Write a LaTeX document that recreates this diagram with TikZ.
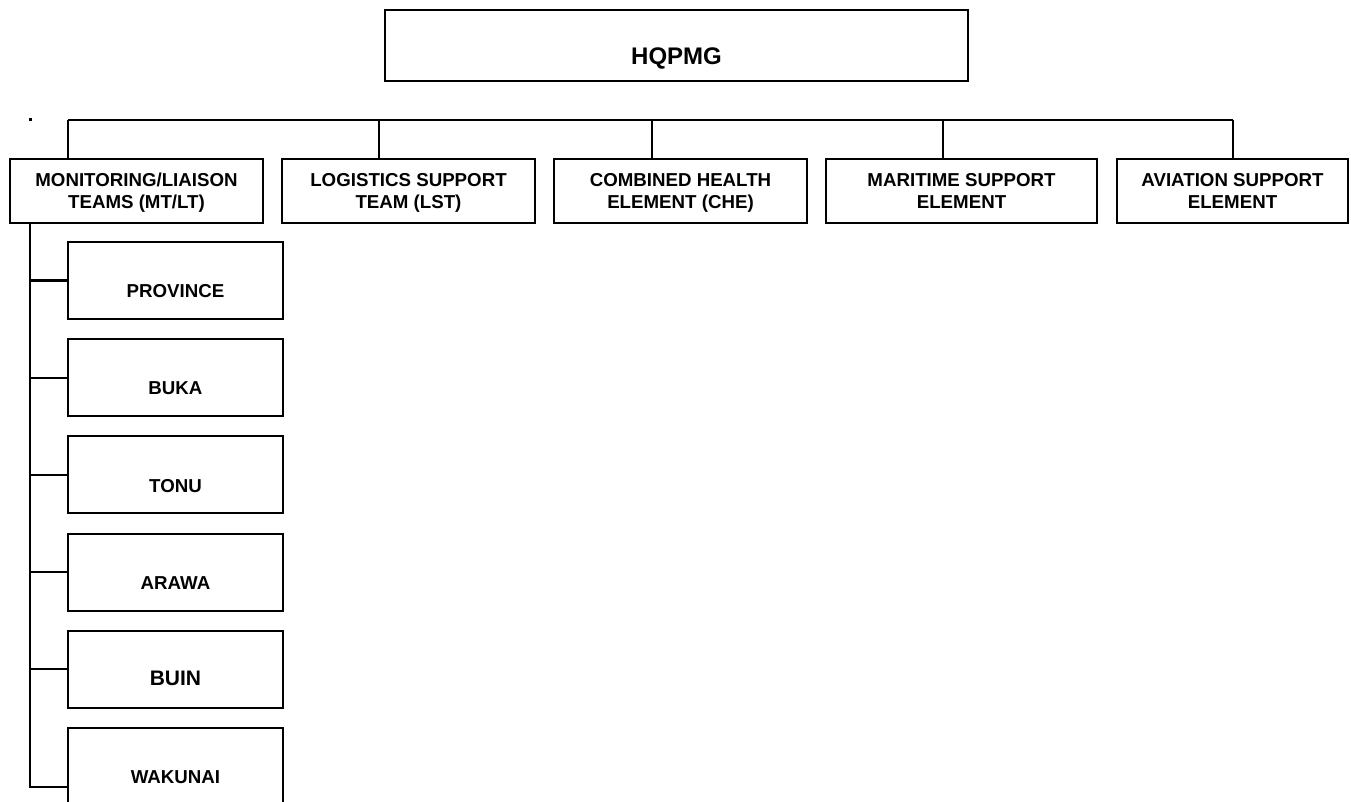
\documentclass[tikz,border=0pt]{standalone}
\usepackage{fontspec}
\setmainfont{Liberation Sans}
\begin{document}
\begin{tikzpicture}[x=1pt,y=-1pt,
  line width=2.1pt,
  box/.style={draw, rectangle, inner sep=0pt, outer sep=0pt, minimum height=#1},
  box/.default=77,
  linetext/.style={anchor=base, font=\bfseries\fontsize{18.7}{22}\selectfont, inner sep=0pt},
  kidtext/.style={font=\bfseries\fontsize{18.7}{22}\selectfont, text height=13.4pt, text depth=0pt, inner sep=0pt},
]
\useasboundingbox (0,0) rectangle (1351,801);
\clip (0,0) rectangle (1351,801);

% HQ
\node[box=71, minimum width=583] (hq) at (676.5,45.5) {};
\node[kidtext, font=\bfseries\fontsize{24}{28}\selectfont, text height=17.2pt] (hqt) at ([yshift=-10.5pt]hq.center) {HQPMG};

% top level boxes
\node[box=64, minimum width=253] (b1) at (136.5,191) {};
\node[box=64, minimum width=253] (b2) at (408.5,191) {};
\node[box=64, minimum width=253] (b3) at (680.5,191) {};
\node[box=64, minimum width=271] (b4) at (961.5,191) {};
\node[box=64, minimum width=231] (b5) at (1232.5,191) {};

\node[linetext] (b1a) at ([yshift=4.3pt]b1.center) {MONITORING/LIAISON};
\node[linetext] (b1b) at ([yshift=-17.7pt]b1.center) {TEAMS (MT/LT)};
\node[linetext] (b2a) at ([yshift=4.3pt]b2.center) {LOGISTICS SUPPORT};
\node[linetext] (b2b) at ([yshift=-17.7pt]b2.center) {TEAM (LST)};
\node[linetext] (b3a) at ([yshift=4.3pt]b3.center) {COMBINED HEALTH};
\node[linetext] (b3b) at ([yshift=-17.7pt]b3.center) {ELEMENT (CHE)};
\node[linetext] (b4a) at ([yshift=4.3pt]b4.center) {MARITIME SUPPORT};
\node[linetext] (b4b) at ([yshift=-17.7pt]b4.center) {ELEMENT};
\node[linetext] (b5a) at ([yshift=4.3pt]b5.center) {AVIATION SUPPORT};
\node[linetext] (b5b) at ([yshift=-17.7pt]b5.center) {ELEMENT};

% bus
\coordinate (t1) at (68,120);
\coordinate (t2) at (379,120);
\coordinate (t3) at (652,120);
\coordinate (t4) at (943,120);
\coordinate (t5) at (1233,120);
\draw (t1) -- (t5);
\draw (t1) -- (t1 |- b1.north);
\draw (t2) -- (t2 |- b2.north);
\draw (t3) -- (t3 |- b3.north);
\draw (t4) -- (t4 |- b4.north);
\draw (t5) -- (t5 |- b5.north);

% stray dot
\fill (29,118) rectangle (31.5,120.5);

% child boxes
\foreach \n/\y in {c1/280.5, c2/377.7, c3/474.9, c4/572.1, c5/669.3, c6/766.5}
  \node[box=77, minimum width=215] (\n) at (175.5,\y) {};

\node[kidtext] (c1t) at ([yshift=-10.5pt]c1.center) {PROVINCE};
\node[kidtext] (c2t) at ([yshift=-10.5pt]c2.center) {BUKA};
\node[kidtext] (c3t) at ([yshift=-10.5pt]c3.center) {TONU};
\node[kidtext] (c4t) at ([yshift=-10.5pt]c4.center) {ARAWA};
\node[kidtext, font=\bfseries\fontsize{21}{24}\selectfont, text height=15pt] (c5t) at ([yshift=-9pt]c5.center) {BUIN};
\node[kidtext] (c6t) at ([yshift=-10.5pt]c6.center) {WAKUNAI};

% spine
\coordinate (sp) at (30,0);
\coordinate (spend) at (30,787);
\draw (b1.south -| sp) -- (spend) -- (spend -| c6.west);
\foreach \n in {c1,c2,c3,c4,c5}
  \draw (\n.west -| sp) -- (\n.west);
\end{tikzpicture}
\end{document}
